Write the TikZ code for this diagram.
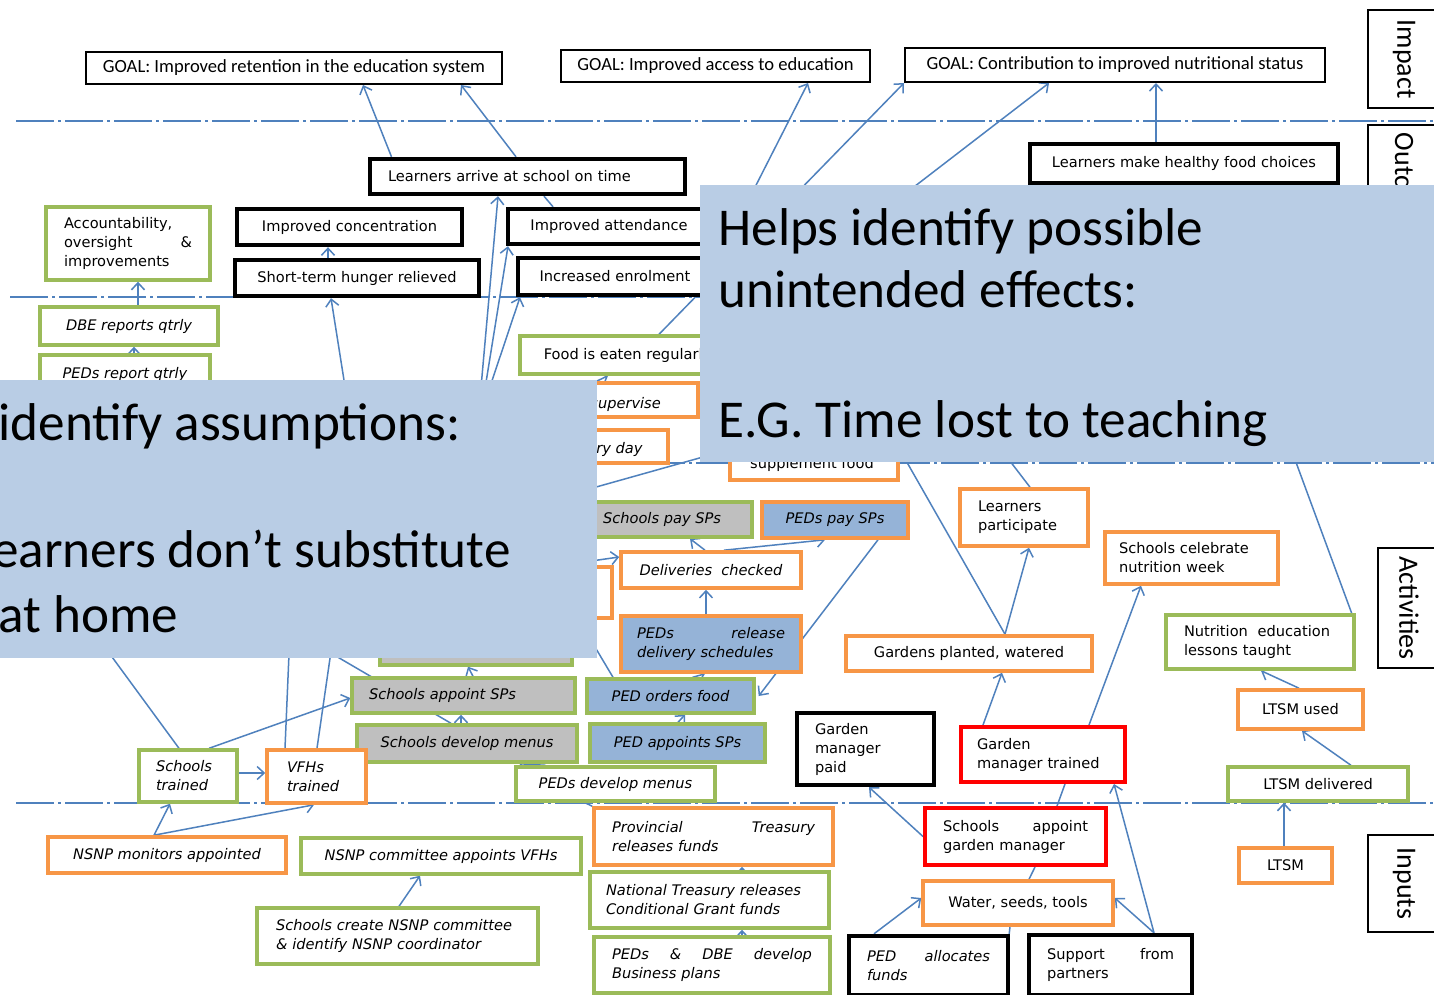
\documentclass[tikz,border=0pt]{standalone}
\usepackage{fontspec}
\setmainfont{DejaVu Sans}[ItalicFont={DejaVu Sans Oblique}]
\newfontfamily\calfont{Carlito}
\usepackage{tikz}
\usetikzlibrary{arrows.meta,backgrounds}
\definecolor{linec}{HTML}{4F81BD}
\definecolor{greenc}{HTML}{9BBB59}
\definecolor{orangec}{HTML}{F79646}
\definecolor{redc}{HTML}{FF0000}
\definecolor{greyc}{HTML}{BFBFBF}
\definecolor{bluec}{HTML}{95B3D7}
\definecolor{callc}{HTML}{B9CDE5}
\newcommand{\boxfont}{\fontsize{7.3}{9.5}\selectfont}
\newcommand{\goalfont}{\calfont\fontsize{9.3}{11}\selectfont}
\newcommand{\sidefont}{\calfont\fontsize{14}{16}\selectfont}
\newcommand{\callfont}{\calfont\fontsize{26.6}{31.5}\selectfont}
\tikzset{
  box/.style={draw,fill=white,font=\boxfont,inner xsep=7pt,inner ysep=2pt,align=center},
  itx/.style={font=\boxfont\itshape},
  goalb/.style={box,draw=black,line width=1pt,font=\goalfont},
  blackb/.style={box,draw=black,line width=2.2pt},
  greenb/.style={box,draw=greenc,line width=1.7pt},
  orangeb/.style={box,draw=orangec,line width=1.8pt},
  redb/.style={box,draw=redc,line width=2pt},
  sidelbl/.style={draw=black,line width=1pt,fill=white,font=\sidefont,rotate=-90,inner sep=2pt},
  conn/.style={draw=linec,line width=0.75pt,-{Straight Barb[length=3.5pt,width=6.5pt]}},
  link/.style={draw=linec,line width=0.75pt},
  sepline/.style={draw=linec,line width=0.9pt,dash pattern=on 19pt off 2pt on 1.5pt off 2pt},
  callbox/.style={fill=callc,draw=none,inner sep=0pt},
  calltext/.style={font=\callfont,inner sep=0pt,anchor=base west}
}
\begin{document}
\begin{tikzpicture}[x=0.5pt,y=-0.5pt]
\useasboundingbox (0,0) rectangle (1434,995);
\clip (0,0) rectangle (1434,995);
\begin{pgfonlayer}{background}
\fill[white] (0,0) rectangle (1434,995);
\end{pgfonlayer}

% impact
\node[goalb,minimum width=208pt,minimum height=16pt] (goalret) at (294,68) {GOAL: Improved retention in the education system};
\node[goalb,minimum width=154.5pt,minimum height=16pt] (goalacc) at (715.5,66) {GOAL: Improved access to education};
\node[goalb,minimum width=210pt,minimum height=17pt] (goalnut) at (1115,65) {GOAL: Contribution to improved nutritional status};
\node[sidelbl,minimum width=49pt,minimum height=36pt] (impactlbl) at (1404,59) {Impact};
\node[sidelbl,minimum height=36pt,text width=150pt,inner xsep=4pt,align=left,anchor=west] (outclbl) at (1404,124) {Outcomes};
\node[sidelbl,minimum width=60pt,minimum height=31pt] (actlbl) at (1409,608) {Activities};
\node[sidelbl,minimum width=48.5pt,minimum height=36pt] (inplbl) at (1404,883.5) {Inputs};

% outcomes
\node[blackb,minimum height=17.5pt,text width=139.5pt,inner xsep=9pt,align=left] (arrive) at (527.5,176.5) {Learners arrive at school on time};
\node[blackb,minimum width=154pt,minimum height=19.5pt] (healthy) at (1184,163.5) {Learners make healthy food choices};
\node[blackb,minimum width=112.5pt,minimum height=18pt] (concentr) at (349.5,227) {Improved concentration};
\node[blackb,minimum width=101pt,minimum height=17.5pt] (attend) at (609,226.5) {Improved attendance};
\node[blackb,minimum width=122pt,minimum height=18pt] (hunger) at (357,278) {Short-term hunger relieved};
\node[blackb,minimum width=97pt,minimum height=18.5pt] (enrol) at (615,276.5) {Increased enrolment};
\node[greenb,minimum height=36.5pt,text width=64pt,inner xsep=9pt,align=left] (account) at (128,243.5) {Accountability,\\oversight\hfill\&\\improvements};

% outputs
\node[greenb,itx,minimum width=89pt,minimum height=19pt] (dbe) at (129,326) {DBE reports qtrly};
\node[greenb,itx,minimum width=85pt,minimum height=19pt] (pedsrep) at (125,374) {PEDs report qtrly};
\node[greenb,minimum width=107.5pt,minimum height=19pt] (foodeat) at (627.5,355) {Food is eaten regularly};
\node[orangeb,minimum width=69pt,minimum height=17pt] (supervise) at (629,400) {};
\node[itx,anchor=base west,inner sep=0pt] (supervisetxt) at (590,408) {supervise};
\node[orangeb,minimum width=54pt,minimum height=16.5pt] (everyday) at (614,446.5) {};
\node[itx,anchor=base west,inner sep=0pt] (everydaytxt) at (596,453) {ry day};
\node[orangeb,minimum width=84pt,minimum height=20pt] (supplem) at (814,460) {};
\node[font=\boxfont,anchor=base,inner sep=0pt] (supplemtxt) at (812,468) {supplement food};

% activities
\node[greenb,itx,fill=greyc,minimum width=90pt,minimum height=17.5pt] (schpay) at (662,519.5) {Schools pay SPs};
\node[orangeb,itx,fill=bluec,minimum width=73pt,minimum height=18pt] (pedpay) at (835,520) {PEDs pay SPs};
\node[orangeb,minimum height=28.5pt,text width=46pt,inner xsep=9pt,align=left] (learnpart) at (1024,517.5) {Learners\\participate};
\node[orangeb,minimum height=26pt,text width=72.5pt,inner xsep=7pt,align=left] (celebr) at (1191.5,558) {Schools celebrate\\nutrition week};
\node[orangeb,itx,minimum width=90pt,minimum height=18pt] (delivchk) at (711,570) {Deliveries\ \ checked};
\node[orangeb,minimum width=36pt,minimum height=25.5pt] (hidorange) at (576,592.5) {};
\node[orangeb,itx,fill=bluec,minimum height=28pt,text width=74pt,inner xsep=8pt,align=left] (pedrel) at (711,644) {PEDs\hfill release\\delivery schedules};
\node[orangeb,minimum width=123pt,minimum height=17.5pt] (gardens) at (969,653.5) {Gardens planted, watered};
\node[greenb,minimum height=27pt,text width=76pt,inner xsep=9pt,align=left] (nutedu) at (1260,642) {Nutrition\ \ education\\lessons taught};
\node[orangeb,minimum width=62.5pt,minimum height=19.5pt] (ltsmused) at (1300.5,709.5) {LTSM used};
\node[greenb,minimum width=90pt,minimum height=17pt] (ltsmdel) at (1318,784) {LTSM delivered};
\node[greenb,fill=greyc,minimum width=96pt,minimum height=22.5pt] (hidgrey) at (476,642.5) {};
\node[greenb,itx,fill=greyc,minimum height=17.5pt,text width=94.5pt,inner xsep=8.5pt,align=left] (schappt) at (463.5,695.5) {Schools appoint SPs};
\node[greenb,itx,fill=bluec,minimum width=83.5pt,minimum height=17pt] (pedorder) at (670.5,696) {PED orders food};
\node[greenb,itx,fill=greyc,minimum width=110pt,minimum height=18.5pt] (schmenu) at (467,743.5) {Schools develop menus};
\node[greenb,itx,fill=bluec,minimum width=87.5pt,minimum height=19pt] (pedappt) at (677.5,743) {PED appoints SPs};
\node[greenb,itx,minimum width=99.5pt,minimum height=17pt] (pedmenu) at (615.5,784) {PEDs develop menus};
\node[greenb,itx,minimum height=26pt,text width=32pt,inner xsep=8.5pt,align=left] (schtrain) at (188,776) {Schools\\trained};
\node[orangeb,itx,minimum height=26.5pt,text width=29.5pt,inner xsep=10pt,align=left] (vfhtrain) at (316.5,776.5) {VFHs\\trained};
\node[blackb,minimum height=36pt,text width=50.5pt,inner xsep=9pt,align=left] (gmpaid) at (865.5,749) {Garden\\manager\\paid};
\node[redb,minimum height=27.5pt,text width=66pt,inner xsep=8pt,align=left] (gmtrain) at (1043,754.5) {Garden\\manager trained};

% inputs
\node[orangeb,itx,minimum width=119pt,minimum height=18pt] (monitors) at (167,855) {NSNP monitors appointed};
\node[greenb,itx,minimum width=140pt,minimum height=18pt] (committee) at (441,856) {NSNP committee appoints VFHs};
\node[greenb,itx,minimum height=28pt,text width=121.5pt,inner xsep=9.5pt,align=left] (createcom) at (397.5,936) {Schools create NSNP committee\\\& identify NSNP coordinator};
\node[orangeb,itx,minimum height=28.5pt,text width=101.5pt,inner xsep=9pt,align=left] (provtr) at (713.5,836.5) {Provincial\hfill Treasury\\releases funds};
\node[greenb,itx,minimum height=28pt,text width=103.5pt,inner xsep=8pt,align=left] (nattr) at (709.5,900) {National Treasury releases\\Conditional Grant funds};
\node[greenb,itx,minimum height=28pt,text width=100pt,inner xsep=9pt,align=left] (busplan) at (712,965) {PEDs\hfill\&\hfill DBE\hfill develop\\Business plans};
\node[redb,minimum height=28.5pt,text width=72.5pt,inner xsep=9pt,align=left] (schgm) at (1015.5,836.5) {Schools\hfill appoint\\garden manager};
\node[orangeb,minimum width=95pt,minimum height=22pt] (water) at (1018,903) {Water, seeds, tools};
\node[blackb,itx,minimum height=29.5pt,text width=61.5pt,inner xsep=9pt,align=left] (pedfund) at (928.5,965.5) {PED\hfill allocates\\funds};
\node[blackb,minimum height=30pt,text width=63.5pt,inner xsep=9pt,align=left] (support) at (1110.5,965) {Support\hfill from\\partners};
\node[orangeb,minimum width=46.5pt,minimum height=17.5pt] (ltsm) at (1285.5,865.5) {LTSM};

% ends hidden under the two notes
\coordinate (srcA) at (471,500);
\coordinate (srcB) at (467,500);
\coordinate (srcC) at (452,500);
\coordinate (srcD) at (363,500);
\coordinate (srcE) at (500,428);
\coordinate (srcF) at (719,258);
\coordinate (srcG) at (832,250);
\coordinate (srcH) at (500,514);
\coordinate (dstB) at (760,441);
\coordinate (srcI) at (500,574);
\coordinate (srcJ) at (567,600);
\coordinate (dstC) at (860,380);
\coordinate (dstD) at (990,435);
\coordinate (dstE) at (1273,400);
\coordinate (dstF) at (240,600);
\coordinate (dstG) at (60,586);
\coordinate (dstH) at (293,560);
\coordinate (dstI) at (350,520);

\begin{pgfonlayer}{background}
\draw[sepline] (16,121) -- (1434,121);
\draw[sepline] (10,297) -- (1434,297);
\draw[sepline] (10,463) -- (1434,463);
\draw[sepline] (16,803) -- (1434,803);
% links
\draw[conn] ([xshift=-68pt]arrive.north) -- ([xshift=34.5pt]goalret.south);
\draw[conn] ([xshift=-5.75pt]arrive.north) -- ([xshift=83.5pt]goalret.south);
\draw[link] ([xshift=-28pt]attend.north) -- ([xshift=8.25pt]arrive.south);
\draw[conn] (srcA) -- ([xshift=-14.75pt]arrive.south);
\draw[conn] (srcB) -- ([xshift=-50.5pt]attend.south);
\draw[conn] (srcC) -- ([xshift=-47.5pt]enrol.south);
\draw[conn] (srcD) -- ([xshift=-13pt]hunger.south);
\draw[conn] ([xshift=-14.5pt]hunger.north) -- ([xshift=-10.75pt]concentr.south);
\draw[conn] ([xshift=4.5pt]dbe.north) -- ([xshift=5pt]account.south);
\draw[conn] ([xshift=4.5pt]pedsrep.north) -- ([xshift=2.5pt]dbe.south);
\draw[conn] (srcE) -- ([xshift=-9.75pt]foodeat.south);
\draw[conn] ([xshift=15.75pt]foodeat.north) -- (goalnut.south west);
\draw[conn] (srcF) -- ([xshift=46.25pt]goalacc.south);
\draw[conn] (srcG) -- ([xshift=-33pt]goalnut.south);
\draw[conn] ([xshift=-14pt]healthy.north) -- ([xshift=20.5pt]goalnut.south);
\draw[conn] (srcH) -- (dstB);
\draw[conn] (srcI) -- ([yshift=6.5pt]delivchk.west);
\draw[conn] ([xshift=-3pt]delivchk.north) -- ([xshift=14pt]schpay.south);
\draw[conn] ([xshift=6.5pt]delivchk.north) -- ([xshift=-5pt]pedpay.south);
\draw[conn] ([xshift=-2.5pt]pedrel.north) -- ([xshift=-2.5pt]delivchk.south);
\draw[conn] ([xshift=11pt]pedorder.north) -- ([xshift=-3pt]pedrel.south);
\draw[conn] ([xshift=0.25pt]pedappt.north) -- ([xshift=7.25pt]pedorder.south);
\draw[conn] ([xshift=21.5pt]pedpay.south) -- ([xshift=1.5pt]pedorder.east);
\draw[link] ([xshift=-28.75pt]pedorder.north) -- (srcJ);
\draw[conn] ([xshift=18pt]gardens.north) -- ([xshift=2.5pt]learnpart.south);
\draw[conn] ([xshift=18pt]gardens.north) -- (dstC);
\draw[conn] ([xshift=3pt]learnpart.north) -- (dstD);
\draw[conn] ([xshift=-2pt]nutedu.north east) -- (dstE);
\draw[conn] ([xshift=23pt]gmtrain.north) -- ([xshift=-25.25pt]celebr.south);
\draw[conn] ([xshift=-30pt]gmtrain.north) -- ([xshift=16.5pt]gardens.south);
\draw[conn] ([xshift=16.5pt]ltsmdel.north) -- ([xshift=0.75pt]ltsmused.south);
\draw[conn] ([xshift=-0.75pt]ltsmused.north) -- ([xshift=0.5pt]nutedu.south);
\draw[conn] ([xshift=-0.75pt]ltsm.north) -- ([xshift=-17pt]ltsmdel.south);
\draw[conn] (schgm.west) -- ([xshift=1.75pt]gmpaid.south);
\draw[link] ([xshift=20.75pt]schgm.north) -- ([xshift=11pt]gmtrain.south);
\draw[link] ([xshift=5.5pt]water.north) -- ([xshift=9.75pt]schgm.south);
\draw[conn] ([xshift=-27.25pt]pedfund.north) -- ([yshift=2.5pt]water.west);
\draw[link] ([xshift=-0.5pt]pedfund.north east) -- ([xshift=-4pt]water.south);
\draw[conn] ([xshift=21.75pt]support.north) -- ([yshift=2.5pt]water.east);
\draw[conn] ([xshift=21.75pt]support.north) -- ([xshift=35.5pt]gmtrain.south);
\draw[conn] ([xshift=16.25pt]nattr.north) -- ([xshift=14.25pt]provtr.south);
\draw[conn] ([xshift=15pt]busplan.north) -- ([xshift=16.25pt]nattr.south);
\draw[link] ([xshift=-15.25pt]pedmenu.south) -- (provtr.north west);
\draw[conn] ([xshift=-35pt]pedmenu.north) -- ([xshift=26pt]schmenu.south);
\draw[conn] ([xshift=-3pt]schmenu.north) -- ([xshift=-1.25pt]schappt.south);
\draw[link] ([xshift=-8pt]schmenu.north) -- (dstF);
\draw[conn] ([xshift=4.75pt]schappt.north) -- ([xshift=-4pt]hidgrey.south);
\draw[conn] ([xshift=10.5pt]schtrain.north) -- ([yshift=-1.25pt]schappt.west);
\draw[link] ([xshift=-4.5pt]schtrain.north) -- (dstG);
\draw[link] ([xshift=-15.75pt]vfhtrain.north) -- (dstH);
\draw[link] ([xshift=0.25pt]vfhtrain.north) -- (dstI);
\draw[conn] ([yshift=1.5pt]schtrain.east) -- ([yshift=1.75pt]vfhtrain.west);
\draw[conn] ([xshift=-6.5pt]monitors.north) -- ([xshift=-9pt]schtrain.south);
\draw[conn] ([xshift=-6.5pt]monitors.north) -- ([xshift=-1.25pt]vfhtrain.south);
\draw[conn] ([xshift=0.75pt]createcom.north) -- ([xshift=-10.5pt]committee.south);
\end{pgfonlayer}

% notes on top
\node[callbox,minimum width=298.5pt,minimum height=139pt] (callL) at (298.5,519) {};
\node[callbox,minimum width=370pt,minimum height=138.5pt] (callR) at (1070,323.5) {};
\node[calltext] (callRa) at (718,245) {Helps identify possible};
\node[calltext] (callRb) at (718,307) {unintended effects:};
\node[calltext] (callRc) at (718,437) {E.G. Time lost to teaching};
\node[calltext] (callLa) at (-2,440) {identify assumptions:};
\node[calltext] (callLb) at (-8,567) {earners don’t substitute};
\node[calltext] (callLc) at (-2,632) {at home};
\end{tikzpicture}
\end{document}
